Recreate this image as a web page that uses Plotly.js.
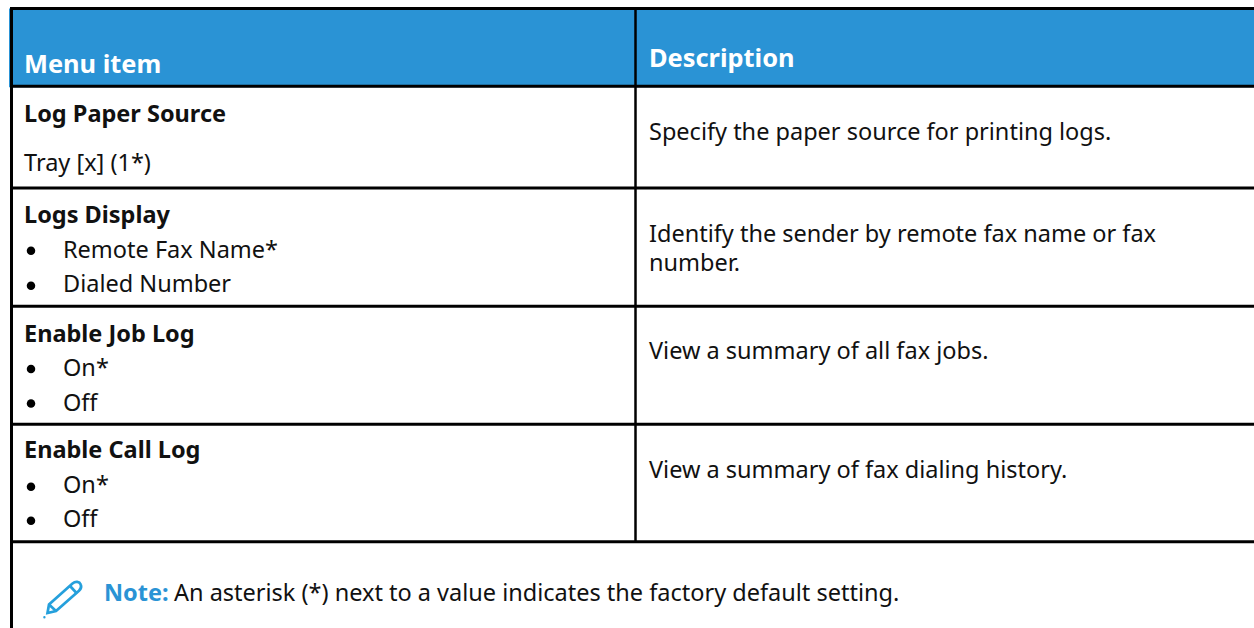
<!DOCTYPE html>
<html><head><meta charset="utf-8">
<script src="https://cdn.plot.ly/plotly-3.0.1.min.js"></script>
<style>html,body{margin:0;padding:0;background:#fff}#c{width:1254px;height:628px}</style>
</head><body><div id="c"></div>
<script>
const headers = ["Menu item", "Description"];
const menuTitles = ["Log Paper Source", "Logs Display", "Enable Job Log", "Enable Call Log"];
const menuOptions = [["Tray [x] (1*)"], ["Remote Fax Name*", "Dialed Number"], ["On*", "Off"], ["On*", "Off"]];
const descriptions = [["Specify the paper source for printing logs."],
  ["Identify the sender by remote fax name or fax", "number."],
  ["View a summary of all fax jobs."], ["View a summary of fax dialing history."]];
const noteLabel = "Note:";
const noteText = "An asterisk (*) next to a value indicates the factory default setting.";

const FONT = "Noto Sans, sans-serif", SZ = 23.5, BLUE = "#2a93d5", INK = "#111";
const L = 11.5, M = 635.5, R = 1254, B = 628;
const ruleY = [8.5, 86.2, 188, 306.3, 424.2, 541.7];
const OFF = 9.1;
const titleY = [122, 223.3, 341.7, 458.3].map(b=>b-OFF);
const optY = [[171], [257.7, 292.3], [375.7, 410.7], [493.3, 527.3]].map(a=>a.map(b=>b-OFF));
const descY = [[140], [241.7, 271], [359.3], [477.7]].map(a=>a.map(b=>b-OFF));
const bulletY = [[], [250.7, 285.7], [369, 403.5], [486.7, 520.7]];

const anns = [], bx = [], by = [];
function t(x, y, text, o) {
  anns.push(Object.assign({x, y, text, xref:"x", yref:"y", xanchor:"left", yanchor:"middle", showarrow:false,
    borderpad:0, borderwidth:0, align:"left", font:{family:FONT, size:SZ, color:INK}}, o||{}));
}
const white = {family:FONT, size:25.4, color:"#fff"};
t(24, 62.8, "<b>"+headers[0]+"</b>", {font:white});
t(649, 56.8, "<b>"+headers[1]+"</b>", {font:white});
menuTitles.forEach((s,i)=>{
  t(24, titleY[i], "<b>"+s+"</b>");
  menuOptions[i].forEach((o,j)=>{
    if (i===0) t(24, optY[i][j], o);
    else { bx.push(31); by.push(bulletY[i][j]); t(63, optY[i][j], o); }
  });
  descriptions[i].forEach((d,j)=>t(649, descY[i][j], d));
});
t(104, 600.7-OFF, "<b>"+noteLabel+"</b>", {font:{family:FONT,size:SZ,color:BLUE}});
t(174, 600.7-OFF, noteText);

const line = (x0,y0,x1,y1,w)=>({type:"line",x0,y0,x1,y1,xref:"x",yref:"y",line:{color:"#000",width:w},layer:"above"});
const shapes = [
  {type:"rect",x0:9,x1:R,y0:ruleY[0],y1:ruleY[1]+1,xref:"x",yref:"y",fillcolor:BLUE,line:{width:0},layer:"below"},
  line(10,ruleY[0],R,ruleY[0],3),
  line(L,ruleY[0],L,B,3),
  line(M,ruleY[0],M,ruleY[5],2.5)
];
ruleY.slice(1).forEach(y=>shapes.push(line(L,y,R,y,3)));
// pencil icon
const penStyle = {color:"#25a0dc",width:2.7};
[ "M 47.5 613 L 49 604.5 L 72.5 583.5 C 75.5 581 79.5 581.5 80.7 584.5 C 81.8 587 81 589 79 590.8 L 56 611 Z",
  "M 49 604.5 L 56 611", "M 70 586 L 77 593.5"
].forEach(p=>shapes.push({type:"path",path:p,xref:"x",yref:"y",line:penStyle,layer:"above"}));
shapes.push({type:"circle",x0:43.2,x1:45.6,y0:616,y1:618.4,xref:"x",yref:"y",fillcolor:"#25a0dc",line:{width:0},layer:"above"});

Plotly.newPlot("c", [{x:bx,y:by,type:"scatter",mode:"markers",marker:{size:8.5,color:"#000"},hoverinfo:"skip",showlegend:false}], {
  width:1254, height:628, margin:{l:0,r:0,t:0,b:0}, paper_bgcolor:"#fff", plot_bgcolor:"#fff", showlegend:false,
  xaxis:{range:[0,1254],visible:false,fixedrange:true},
  yaxis:{range:[628,0],visible:false,fixedrange:true},
  shapes, annotations:anns
}, {staticPlot:true, displayModeBar:false});
</script></body></html>
